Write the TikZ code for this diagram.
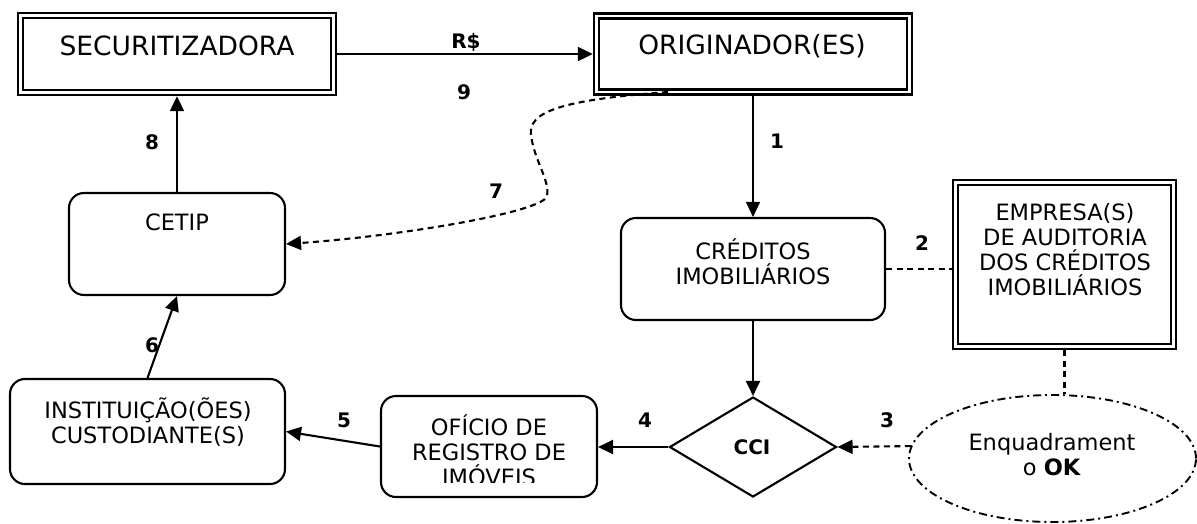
\documentclass[tikz,border=0pt]{standalone}
\usepackage{fontspec}
\setmainfont{DejaVu Sans}
\usetikzlibrary{arrows.meta,shapes.geometric}
\begin{document}
\begin{tikzpicture}[x=1pt,y=-1pt,
  dbox/.style={draw, double, double distance=2.2pt, line width=2.6pt, inner sep=0pt, outer sep=3.7pt},
  rbox/.style={draw, rounded corners=15pt, line width=2.1pt, inner sep=0pt},
  bigtxt/.style={font=\fontsize{26.5}{28}\selectfont, inner sep=0pt},
  txt/.style={font=\fontsize{22.5}{25}\selectfont, align=center, inner sep=0pt},
  lbl/.style={font=\fontsize{20}{22}\selectfont\bfseries, inner sep=0pt},
  tip/.style={-{Triangle[length=15pt,width=14pt]}},
  arr/.style={tip, line width=2.1pt},
  dsh/.style={dash pattern=on 6pt off 4.5pt, line width=2.1pt},
  dshdot/.style={dash pattern=on 8pt off 4pt on 2pt off 4pt, line width=1.9pt}]
\useasboundingbox (0,0) rectangle (1197,523);

% boxes
\node[dbox, minimum width=313pt, minimum height=77pt] (secu) at (177,54) {};
\node[dbox, minimum width=313pt, minimum height=76pt] (orig) at (753,54) {};
\node[dbox, minimum width=218pt, minimum height=164pt] (emp) at (1064.5,264.5) {};
\node[rbox, minimum width=216pt, minimum height=102pt] (cetip) at (177,244) {};
\node[rbox, minimum width=275pt, minimum height=105pt] (inst) at (147.5,431.5) {};
\node[rbox, minimum width=216pt, minimum height=101pt] (ofi) at (489,446.5) {};
\node[rbox, minimum width=264pt, minimum height=102pt] (cred) at (753,269) {};
\node[draw, diamond, line width=2.1pt, inner sep=0pt, minimum width=167pt, minimum height=100pt] (cci) at (753,447) {};
\node[draw, ellipse, dshdot, inner sep=0pt, minimum width=287pt, minimum height=127pt] (ell) at (1052.5,458.5) {};

% texts
\node[bigtxt] (secuT) at (177,46) {SECURITIZADORA};
\node[bigtxt] (origT) at (752,46) {ORIGINADOR(ES)};
\node[txt] (cetipT) at (177,222.5) {CETIP};
\node[txt] (instT) at (148,422.5) {INSTITUIÇÃO(ÕES)\\CUSTODIANTE(S)};
\begin{scope}
  \clip (383,398) rectangle (595,482);
  \node[txt] (ofiT) at (489,450.5) {OFÍCIO DE\\REGISTRO DE\\IMÓVEIS};
\end{scope}
\node[txt] (credT) at (753,262) {CRÉDITOS\\IMOBILIÁRIOS};
\node[txt] (empT) at (1065,250) {EMPRESA(S)\\DE AUDITORIA\\DOS CRÉDITOS\\IMOBILIÁRIOS};
\node[lbl] (cciT) at (752,447) {CCI};
\node[txt] (ellT) at (1052,455) {Enquadrament\\o \textbf{OK}};

% labels
\node[lbl] (l9a) at (466,42) {R\$};
\node[lbl] (l9) at (464,92) {9};
\node[lbl] (l8) at (152,142) {8};
\node[lbl] (l7) at (496,191) {7};
\node[lbl] (l1) at (777,141) {1};
\node[lbl] (l2) at (922,243) {2};
\node[lbl] (l3) at (887,420) {3};
\node[lbl] (l4) at (645,420) {4};
\node[lbl] (l5) at (344,420) {5};
\node[lbl] (l6) at (152,345) {6};

% connectors
\draw[arr] (secu.east) -- (orig.west);
\draw[tip, line width=1.4pt] (orig.south) -- (cred.north);
\draw[arr] (cred.south) -- (cci.north);
\draw[dsh] (cred.east) -- (cred.east -| emp.west);
\draw[dsh] (emp.south) -- (emp.south |- ell.north);
\draw[dsh, tip] (ell.175.5) -- (cci.east);
\draw[arr] (cci.west) -- (cci.west -| ofi.east);
\draw[arr] (ofi.west) -- (inst.east);
\draw[arr] (inst.north) -- (cetip.south);
\draw[arr] (cetip.north) -- (secu.south);
\coordinate (c7) at (668,92);
\draw[dsh, tip] (c7) .. controls (560,100) and (528,112) .. (531,135)
  .. controls (534,160) and (550,180) .. (547,196)
  .. controls (544,212) and (400,236) .. (cetip.east);
\end{tikzpicture}
\end{document}
